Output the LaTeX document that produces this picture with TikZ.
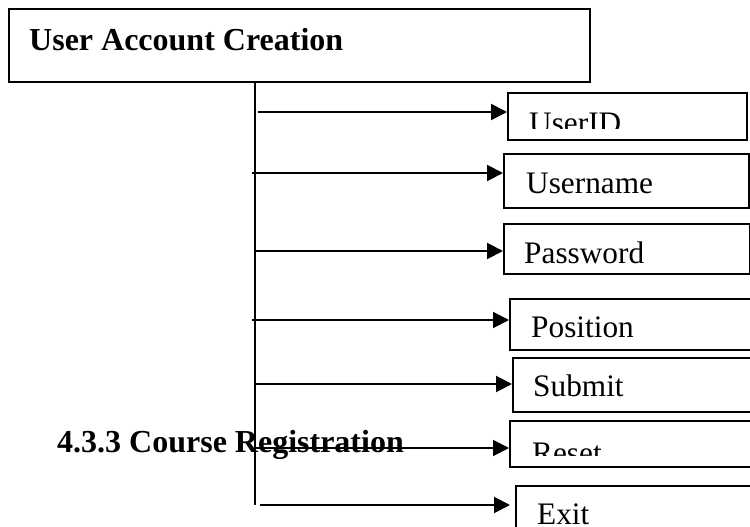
\documentclass[tikz,border=0pt]{standalone}
\usepackage{fontspec}
\setmainfont{Liberation Serif}
\usetikzlibrary{arrows.meta}
\begin{document}
\begin{tikzpicture}[x=1pt,y=-1pt,
  frame/.style={draw, line width=1.8pt, inner sep=0pt, anchor=north west},
  lbl/.style={anchor=base west, inner sep=0pt, font=\fontsize{31.3}{36}\selectfont},
  head/.style={anchor=base west, inner sep=0pt, font=\fontsize{32}{36}\selectfont\bfseries},
  wire/.style={line width=2pt},
  arr/.style={wire, -{Triangle[length=16pt,width=16pt]}}]
\useasboundingbox (0,0) rectangle (750,527);
\begin{scope}
\clip (0,0) rectangle (750,527);

% main form box and its trunk line
\node[frame, minimum width=581pt, minimum height=73pt] (top) at (8,8) {};
\node[head] (ttop) at (29,51) {User Account Creation};
\coordinate (vtop) at (255,81);
\coordinate (vbot) at (255,505);
\draw[wire] (vtop) -- (vbot);

% field boxes
\node[frame, minimum width=239pt, minimum height=47pt] (uid)   at (507,92)  {};
\node[frame, minimum width=245pt, minimum height=54pt] (uname) at (503,153) {};
\node[frame, minimum width=246pt, minimum height=50pt] (pwd)   at (503,223) {};
\node[frame, minimum width=260pt, minimum height=51pt] (pos)   at (509,298) {};
\node[frame, minimum width=260pt, minimum height=54pt] (sub)   at (512,357) {};
\node[frame, minimum width=260pt, minimum height=46pt] (rst)   at (509,420) {};
\node[frame, minimum width=260pt, minimum height=60pt] (ext)   at (515,485) {};

% field labels (some are cut off by their text frame)
\begin{scope}
  \clip (507,92) rectangle (746,128);
  \node[lbl] (tuid) at (529,133) {UserID};
\end{scope}
\node[lbl] (tuname) at (526,193) {Username};
\node[lbl] (tpwd)   at (524,263) {Password};
\node[lbl] (tpos)   at (531,337) {Position};
\node[lbl] (tsub)   at (533,396) {Submit};
\begin{scope}
  \clip (509,420) rectangle (770,455);
  \node[lbl] (trst) at (532,463) {Reset};
\end{scope}
\node[lbl] (text) at (537,524) {Exit};

% section heading
\node[head] (tcr) at (57,452) {4.3.3 Course Registration};

% branches from the trunk to each field
\coordinate (a1) at (258,112);
\coordinate (a2) at (252,173);
\coordinate (a3) at (255,251);
\coordinate (a4) at (252,320);
\coordinate (a5) at (254,384);
\coordinate (a6) at (255,448);
\coordinate (a7) at (260,505);
\draw[arr] (a1) -- (a1 -| uid.west);
\draw[arr] (a2) -- (a2 -| uname.west);
\draw[arr] (a3) -- (a3 -| pwd.west);
\draw[arr] (a4) -- (a4 -| pos.west);
\draw[arr] (a5) -- (a5 -| sub.west);
\draw[arr] (a6) -- (a6 -| rst.west);
\draw[arr] (a7) -- ([xshift=-5pt]a7 -| ext.west);
\end{scope}
\end{tikzpicture}
\end{document}
